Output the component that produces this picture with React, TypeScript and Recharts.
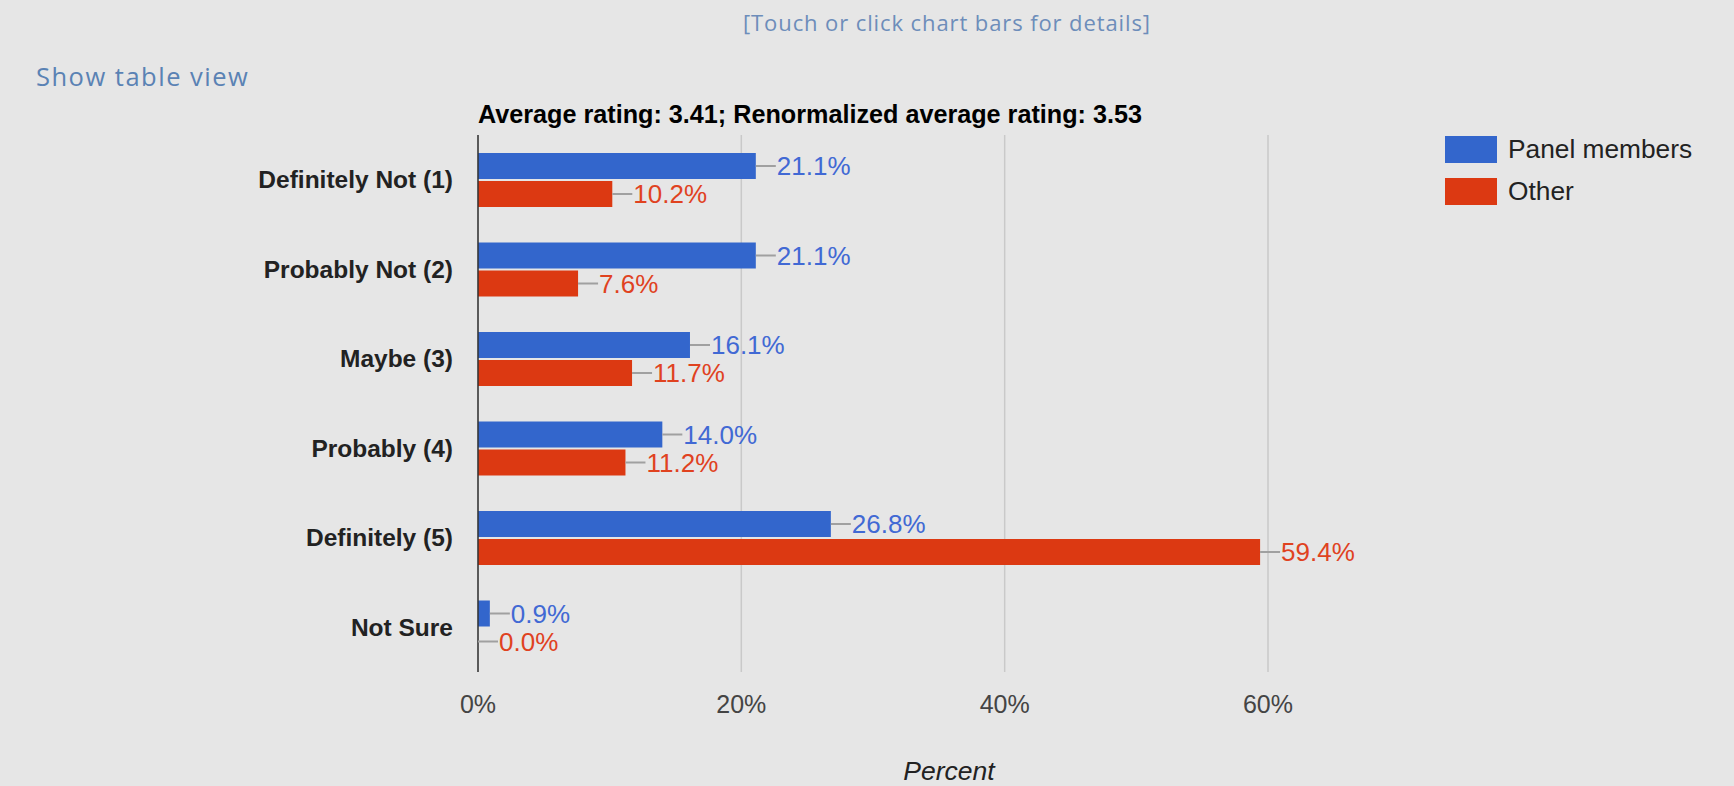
import { BarChart, Bar, XAxis, YAxis, CartesianGrid, LabelList } from 'recharts'

const categories = ['Definitely Not (1)', 'Probably Not (2)', 'Maybe (3)', 'Probably (4)', 'Definitely (5)', 'Not Sure']
const panelMembers = [21.1, 21.1, 16.1, 14.0, 26.8, 0.9]
const other = [10.2, 7.6, 11.7, 11.2, 59.4, 0.0]
const xTicks = [0, 20, 40, 60]
const seriesNames = ['Panel members', 'Other']

const BLUE = '#3366cc'
const RED = '#dc3912'
const BLUE_TEXT = '#4169d4'
const RED_TEXT = '#e0421f'
const FONT = '"Liberation Sans", Arial, sans-serif'

const data = categories.map((name, i) => ({ name, panel: panelMembers[i], other: other[i] }))

function ValueLabel(props: any) {
  const { x, y, width, height, value, color } = props
  const end = Number(x) + (Number(width) || 0)
  const cy = Number(y) + Number(height) / 2
  return (
    <g>
      <line x1={end} x2={end + 20} y1={cy} y2={cy} stroke="#a0a0a0" strokeWidth={2} />
      <text x={end + 21} y={cy} dy="0.36em" fill={color} fontSize={26} fontFamily={FONT}>
        {Number(value).toFixed(1)}%
      </text>
    </g>
  )
}

function XTick(props: any) {
  const { x, y, payload } = props
  return (
    <text x={x} y={Number(y) + 32} dy="0.36em" textAnchor="middle" fill="#444" fontSize={25} fontFamily={FONT}>
      {payload.value}%
    </text>
  )
}

export default function App() {
  return (
    <div style={{ position: 'fixed', left: 0, top: 0, width: 1734, height: 786, background: '#e6e6e6', overflow: 'hidden' }}>
      <div style={{ position: 'absolute', left: 0, width: 1894, top: 22, transform: 'translateY(-50%)', textAlign: 'center', fontFamily: '"Open Sans", sans-serif', fontSize: 22, letterSpacing: 0.9, color: '#6d8dba', lineHeight: 1 }}>
        [Touch or click chart bars for details]
      </div>
      <div style={{ position: 'absolute', left: 36, top: 77, transform: 'translateY(-50%)', fontFamily: '"Open Sans", sans-serif', fontSize: 25.5, letterSpacing: 1.5, color: '#5a82b4', lineHeight: 1 }}>
        Show table view
      </div>
      <div style={{ position: 'absolute', left: 478, top: 115, transform: 'translateY(-50%)', fontFamily: FONT, fontWeight: 'bold', fontSize: 25.2, color: '#000', lineHeight: 1, whiteSpace: 'nowrap' }}>
        Average rating: 3.41; Renormalized average rating: 3.53
      </div>
      <div style={{ position: 'absolute', left: 0, top: 0 }}>
        <BarChart
          width={1734}
          height={786}
          data={data}
          layout="vertical"
          margin={{ top: 135, right: 466, bottom: 0, left: 0 }}
          barSize={26}
          barGap={2}
        >
          <CartesianGrid horizontal={false} stroke="#c9c9c9" strokeWidth={1.5} />
          <XAxis
            type="number"
            domain={[0, 60]}
            ticks={xTicks}
            axisLine={false}
            tickLine={false}
            tickSize={0}
            tickMargin={0}
            height={114}
            tick={<XTick />}
            allowDataOverflow
          />
          <YAxis
            type="category"
            dataKey="name"
            width={478}
            interval={0}
            axisLine={{ stroke: '#333', strokeWidth: 1.5 }}
            tickLine={false}
            tickSize={0}
            tickMargin={25}
            tick={{ fill: '#222', fontSize: 24.5, fontWeight: 'bold', fontFamily: FONT }}
          />
          <Bar dataKey="panel" name={seriesNames[0]} fill={BLUE} minPointSize={0.01} isAnimationActive={false}>
            <LabelList dataKey="panel" content={(p: any) => <ValueLabel {...p} color={BLUE_TEXT} />} />
          </Bar>
          <Bar dataKey="other" name={seriesNames[1]} fill={RED} minPointSize={0.01} isAnimationActive={false}>
            <LabelList dataKey="other" content={(p: any) => <ValueLabel {...p} color={RED_TEXT} />} />
          </Bar>
        </BarChart>
      </div>
      <div style={{ position: 'absolute', left: 1445, top: 136, fontFamily: FONT, fontSize: 26.3, color: '#222' }}>
        {seriesNames.map((s, i) => (
          <div key={s} style={{ display: 'flex', alignItems: 'center', height: 27, marginBottom: 15 }}>
            <div style={{ width: 52, height: 27, background: i === 0 ? BLUE : RED, marginRight: 11 }} />
            <span style={{ lineHeight: 1 }}>{s}</span>
          </div>
        ))}
      </div>
      <div style={{ position: 'absolute', left: 949, top: 771, transform: 'translate(-50%, -50%)', fontFamily: FONT, fontStyle: 'italic', fontSize: 26.5, color: '#222', lineHeight: 1 }}>
        Percent
      </div>
    </div>
  )
}
